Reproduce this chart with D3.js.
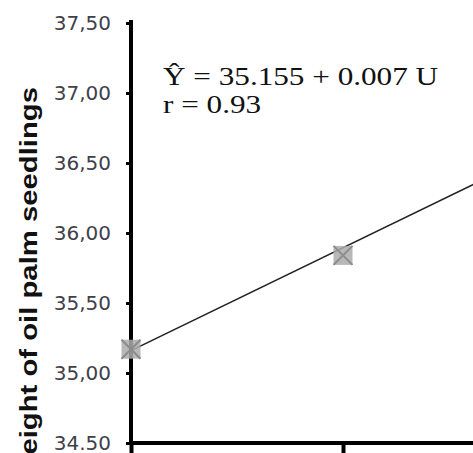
<!DOCTYPE html>
<html>
<head>
<meta charset="utf-8">
<script src="https://cdn.jsdelivr.net/npm/d3@7"></script>
<style>
  body { margin: 0; background: #fff; }
  svg { display: block; }
</style>
</head>
<body>
<svg width="473" height="453"></svg>
<script>
// data
var doses = [0, 100, 200];
var heights = [35.17, 35.84, 36.58];
var yTicks = [34.5, 35.0, 35.5, 36.0, 36.5, 37.0, 37.5];
var yTickLabels = ["34.50", "35,00", "35,50", "36,00", "36,50", "37,00", "37,50"];
var xTicks = [0, 100, 200];
// fitted line as drawn (ends of the line)
var fitU = [0, 200];
var fitY = [35.16, 36.63];
var eqLines = ["\u0176 = 35.155 + 0.007 U", "r = 0.93"];
var yTitle = "Height of oil palm seedlings";

var svg = d3.select("svg");
var width = +svg.attr("width");
var height = +svg.attr("height");

// plot is cropped on the right and bottom, so the range runs past the picture
var x = d3.scaleLinear().domain([0, 200]).range([131, 555]);
var y = d3.scaleLinear().domain([34.5, 37.5]).range([443, 23]);

// axes
var yAxis = svg.append("g")
    .attr("transform", "translate(" + x(0) + ",0)")
    .call(d3.axisLeft(y).tickValues(yTicks).tickSize(5).tickPadding(15)
        .tickFormat(function (d, i) { return yTickLabels[i]; }));
yAxis.select(".domain").remove();
yAxis.selectAll(".tick line").attr("stroke", "#000").attr("stroke-width", 3);
yAxis.selectAll(".tick text")
    .attr("font-family", "DejaVu Sans, Tahoma, sans-serif")
    .attr("font-size", 20)
    .attr("fill", "#40404a");

var xAxis = svg.append("g")
    .attr("transform", "translate(0," + y(34.5) + ")")
    .call(d3.axisBottom(x).tickValues(xTicks).tickSize(10).tickFormat(""));
xAxis.select(".domain").remove();
xAxis.selectAll(".tick line").attr("stroke", "#000").attr("stroke-width", 4);

// axis lines
svg.append("line")
    .attr("x1", x(0)).attr("x2", x(0))
    .attr("y1", y(37.5) - 3).attr("y2", y(34.5) + 2)
    .attr("stroke", "#000").attr("stroke-width", 4);
svg.append("line")
    .attr("x1", x(0) - 2).attr("x2", width)
    .attr("y1", y(34.5)).attr("y2", y(34.5))
    .attr("stroke", "#000").attr("stroke-width", 4);

// trend line
svg.append("line")
    .attr("x1", x(fitU[0])).attr("y1", y(fitY[0]))
    .attr("x2", x(fitU[1])).attr("y2", y(fitY[1]))
    .attr("stroke", "#222").attr("stroke-width", 1.6);

// markers: grey square with a cross
var s = 9.5;
var pts = svg.selectAll(".pt")
    .data(doses.map(function (d, i) { return { u: d, h: heights[i] }; }))
    .enter().append("g")
    .attr("class", "pt")
    .attr("transform", function (d) { return "translate(" + x(d.u) + "," + y(d.h) + ")"; });
pts.append("rect")
    .attr("x", -s).attr("y", -s).attr("width", 2 * s).attr("height", 2 * s)
    .attr("fill", "#ababab").attr("opacity", 0.85);
pts.append("path")
    .attr("d", "M" + (-s) + "," + (-s) + "L" + s + "," + s + "M" + s + "," + (-s) + "L" + (-s) + "," + s)
    .attr("stroke", "#8c8c8c").attr("stroke-width", 2);

// equation text
svg.append("g")
    .selectAll("text")
    .data(eqLines)
    .enter().append("text")
    .attr("transform", function (d, i) { return "translate(163," + (85 + i * 28) + ") scale(1.2,1)"; })
    .attr("font-family", "Liberation Serif, Times New Roman, serif")
    .attr("font-size", 26)
    .attr("fill", "#111")
    .text(function (d) { return d; });

// y title, cut off at the bottom
svg.append("text")
    .attr("transform", "translate(37,87) rotate(-90) scale(1.22,1)")
    .attr("text-anchor", "end")
    .attr("font-family", "Liberation Sans, Arial, sans-serif")
    .attr("font-weight", "bold")
    .attr("font-size", 24)
    .attr("fill", "#111")
    .text(yTitle);
</script>
</body>
</html>
